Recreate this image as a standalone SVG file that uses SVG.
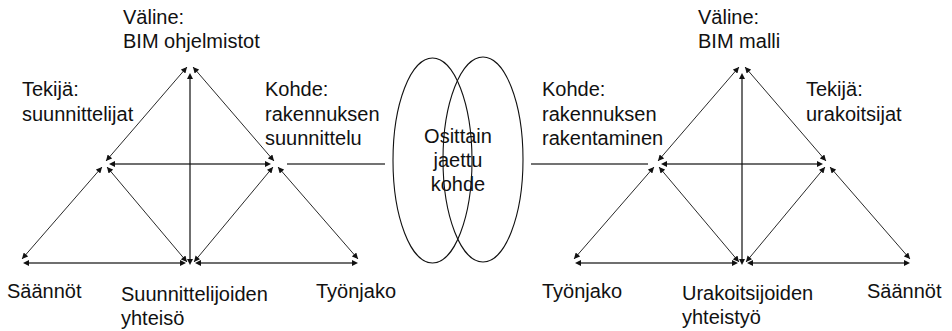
<svg xmlns="http://www.w3.org/2000/svg" width="952" height="331" viewBox="0 0 952 331">
  <style>
    text { font-family: "Liberation Sans", Arial, sans-serif; font-size: 20px; fill: #111; }
    .d { stroke: #111; stroke-width: 0.9; fill: none; marker-start: url(#ah); marker-end: url(#ah); }
    .h { stroke: #111; stroke-opacity: 0; stroke-width: 1.2; fill: none; marker-start: url(#ah); marker-end: url(#ah); }
    .bar { fill: #111; stroke: none; }
    .link { stroke: #444; stroke-width: 1.3; fill: none; }
    .ell { stroke: #111; stroke-width: 1.1; fill: none; }
  </style>
  <defs>
    <marker id="ah" viewBox="0 0 10 10" refX="10" refY="5" markerWidth="7" markerHeight="6" markerUnits="userSpaceOnUse" orient="auto-start-reverse">
      <path d="M0,0 L10,5 L0,10 z" fill="#111"/>
    </marker>
  </defs>

  <g id="connectors">
    <g id="left-triangle">
      <line class="d" x1="187" y1="67" x2="106" y2="161"/>
      <line class="d" x1="193" y1="67" x2="274" y2="161"/>
      <line class="d" x1="102" y1="167" x2="22" y2="259"/>
      <line class="d" x1="107" y1="167" x2="187" y2="262"/>
      <line class="d" x1="273" y1="167" x2="194" y2="262"/>
      <line class="d" x1="278" y1="167" x2="358" y2="259"/>
      <line class="h" x1="190" y1="73" x2="190" y2="265"/>
      <line class="h" x1="109" y1="164" x2="271" y2="164"/>
      <line class="h" x1="23" y1="263" x2="186" y2="263"/>
      <line class="h" x1="195" y1="263" x2="358" y2="263"/>
      <rect class="bar" x="189.4" y="75" width="1.2" height="188"/>
      <rect class="bar" x="111" y="163.4" width="158" height="1.2"/>
      <rect class="bar" x="25" y="262.4" width="159" height="1.2"/>
      <rect class="bar" x="197" y="262.4" width="159" height="1.2"/>
    </g>
    <g id="right-triangle">
      <line class="d" x1="739" y1="67" x2="658" y2="161"/>
      <line class="d" x1="745" y1="67" x2="826" y2="161"/>
      <line class="d" x1="654" y1="167" x2="574" y2="259"/>
      <line class="d" x1="659" y1="167" x2="739" y2="262"/>
      <line class="d" x1="825" y1="167" x2="746" y2="262"/>
      <line class="d" x1="830" y1="167" x2="910" y2="259"/>
      <line class="h" x1="742" y1="73" x2="742" y2="265"/>
      <line class="h" x1="661" y1="164" x2="823" y2="164"/>
      <line class="h" x1="575" y1="263" x2="738" y2="263"/>
      <line class="h" x1="747" y1="263" x2="910" y2="263"/>
      <rect class="bar" x="741.4" y="75" width="1.2" height="188"/>
      <rect class="bar" x="663" y="163.4" width="158" height="1.2"/>
      <rect class="bar" x="577" y="262.4" width="159" height="1.2"/>
      <rect class="bar" x="749" y="262.4" width="159" height="1.2"/>
    </g>
    <line class="link" x1="287" y1="164" x2="385" y2="164"/>
    <line class="link" x1="531" y1="164" x2="648" y2="164"/>
  </g>

  <g id="shared-object">
    <ellipse class="ell" cx="432.5" cy="160.5" rx="39.5" ry="102.5"/>
    <ellipse class="ell" cx="483" cy="159.5" rx="40" ry="102.5"/>
    <text text-anchor="middle"><tspan x="458" y="143">Osittain</tspan><tspan x="458" y="167">jaettu</tspan><tspan x="458" y="191">kohde</tspan></text>
  </g>

  <g id="left-valine"><text><tspan x="123" y="24">Väline:</tspan><tspan x="123" y="48">BIM ohjelmistot</tspan></text></g>
  <g id="left-tekija"><text><tspan x="22" y="96">Tekijä:</tspan><tspan x="22" y="120.5">suunnittelijat</tspan></text></g>
  <g id="left-kohde"><text><tspan x="265" y="96">Kohde:</tspan><tspan x="265" y="120.5">rakennuksen</tspan><tspan x="265" y="145">suunnittelu</tspan></text></g>
  <g id="left-saannot"><text x="7" y="298">Säännöt</text></g>
  <g id="left-yhteiso"><text><tspan x="121" y="301">Suunnittelijoiden</tspan><tspan x="121" y="325">yhteisö</tspan></text></g>
  <g id="left-tyonjako"><text x="316" y="298">Työnjako</text></g>

  <g id="right-valine"><text><tspan x="698" y="24">Väline:</tspan><tspan x="698" y="48">BIM malli</tspan></text></g>
  <g id="right-kohde"><text><tspan x="542" y="96">Kohde:</tspan><tspan x="542" y="120.5">rakennuksen</tspan><tspan x="542" y="145">rakentaminen</tspan></text></g>
  <g id="right-tekija"><text><tspan x="806" y="96">Tekijä:</tspan><tspan x="806" y="120.5">urakoitsijat</tspan></text></g>
  <g id="right-tyonjako"><text x="542" y="298">Työnjako</text></g>
  <g id="right-yhteistyo"><text><tspan x="682" y="300">Urakoitsijoiden</tspan><tspan x="682" y="324">yhteistyö</tspan></text></g>
  <g id="right-saannot"><text x="867" y="298">Säännöt</text></g>
</svg>
